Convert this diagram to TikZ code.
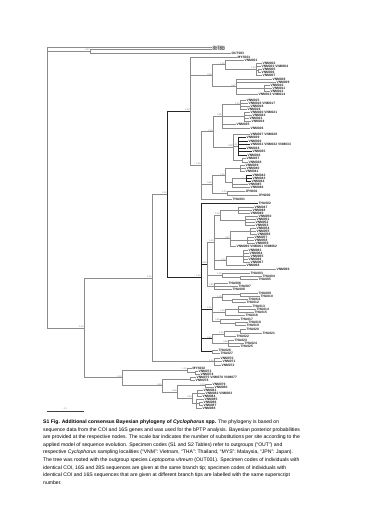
\documentclass[tikz,border=0pt]{standalone}
\usepackage{fontspec}
\setmainfont{Liberation Sans}
\usetikzlibrary{calc}
\tikzset{
 br/.style={draw=black!45, line width=0.7pt},
 dk/.style={draw=black!85, line width=0.7pt},
 tiplab/.style={anchor=west, inner sep=0.35pt, font=\fontsize{3.3}{3.3}\selectfont\bfseries, text=black!85},
 post/.style={anchor=south east, inner sep=0.2pt, font=\fontsize{2.2}{2.2}\selectfont, text=black!55},
}
\newcommand\tp[4]{\node[tiplab] (#1) at (#2,#3) {#4};}
\newcommand\cl[6][br]{%
  \coordinate (#2m) at ($(#4)!.5!(#5)$);
  \coordinate (#2) at (#3,0 |- #2m);
  \foreach \c in {#6}{\draw[#1] (#2) |- (\c);}
}
\newcommand\pp[2]{\node[post] (#1p) at (#1) {#2};}
\begin{document}
\begin{tikzpicture}[x=1pt,y=-1pt]
\fill[white] (0,0) rectangle (365,516);
\useasboundingbox (0,0) rectangle (365,516);
% ---------- tips ----------
\tp{O1}{212}{47}{OUT001}
\tp{O2}{212}{49.5}{OUT002}
\tp{O3}{231}{53}{OUT003}
\tp{M1}{237}{57}{MYS001}
\tp{v01}{244}{60}{VNM001}
\tp{v02}{262}{63}{VNM002}
\tp{v03}{261}{66}{VNM003 VNM004}
\tp{v04}{262}{69}{VNM005}
\tp{v05}{261}{72}{VNM006}
\tp{v06}{262}{75}{VNM007}
\tp{v07}{272}{79}{VNM008}
\tp{v08}{276}{82}{VNM009}
\tp{v09}{270}{85}{VNM010}
\tp{v10}{272}{88}{VNM011}
\tp{v11}{270}{91}{VNM012}
\tp{v12}{258}{94}{VNM013 VNM014}
\tp{v13}{246}{100}{VNM015}
\tp{v14}{248}{103}{VNM016 VNM017}
\tp{v15}{250}{106}{VNM018}
\tp{v16}{247}{109}{VNM019}
\tp{v17}{250}{112}{VNM020 VNM021}
\tp{v18}{252}{115}{VNM022}
\tp{v19}{249}{118}{VNM023}
\tp{v20}{251}{121}{VNM024}
\tp{v21}{236}{124.5}{VNM025}
\tp{v22}{250}{128}{VNM026}
\tp{v23}{250}{134}{VNM027 VNM028}
\tp{v24}{246}{137.5}{VNM029}
\tp{v25}{248}{141}{VNM030}
\tp{v26}{250}{144.5}{VNM031 VNM032 VNM033}
\tp{v27}{246}{148}{VNM034}
\tp{v28}{252}{151.5}{VNM035}
\tp{v29}{247}{155}{VNM036}
\tp{v30}{246}{158.5}{VNM037}
\tp{v31}{248}{162}{VNM038}
\tp{v32}{245}{165.5}{VNM039}
\tp{v33}{246}{168.5}{VNM040}
\tp{v34}{245}{171.5}{VNM041}
\tp{v35}{252}{175}{VNM042}
\tp{v36}{252}{178}{VNM043}
\tp{v37}{251}{181}{VNM044}
\tp{v38}{248}{184}{VNM045}
\tp{v39}{250}{187}{VNM046}
\tp{j1}{245}{191}{JPN001}
\tp{j2}{258}{195}{JPN002}
\tp{t1}{232}{199}{THA001}
\tp{t2}{258}{203}{THA002}
\tp{v40}{254}{207}{VNM047}
\tp{v41}{252}{210}{VNM048}
\tp{v42}{250}{213}{VNM049}
\tp{v43}{258}{216}{VNM050}
\tp{v44}{256}{219}{VNM051}
\tp{v45}{255}{222}{VNM052}
\tp{v46}{255}{225}{VNM053}
\tp{v47}{256}{228}{VNM054}
\tp{v48}{256}{231}{VNM055}
\tp{v49}{257}{234}{VNM056}
\tp{v50}{254}{237}{VNM057}
\tp{v51}{254}{240}{VNM058}
\tp{v52}{255}{243}{VNM059}
\tp{v53}{236}{246.5}{VNM060 VNM061 VNM062}
\tp{v54}{248}{250}{VNM063}
\tp{v55}{249}{253}{VNM064}
\tp{v56}{250}{256}{VNM065}
\tp{v57}{248}{259}{VNM066}
\tp{v58}{250}{262}{VNM067}
\tp{v59}{246}{265}{VNM068}
\tp{v60}{276}{269}{VNM069}
\tp{t3}{250}{273}{THA003}
\tp{t4}{262}{276}{THA004}
\tp{t5}{258}{279}{THA005}
\tp{t6}{228}{283}{THA006}
\tp{t7}{238}{286}{THA007}
\tp{t8}{232}{289}{THA008}
\tp{t9}{258}{293}{THA009}
\tp{t10}{260}{296}{THA010}
\tp{t11}{248}{299}{THA011}
\tp{t12}{246}{302}{THA012}
\tp{t13}{252}{306}{THA013}
\tp{t14}{256}{309}{THA014}
\tp{t15}{254}{312}{THA015}
\tp{t16}{245}{315}{THA016}
\tp{t17}{240}{319}{THA017}
\tp{t18}{248}{322}{THA018}
\tp{t19}{246}{325}{THA019}
\tp{t20}{246}{329.5}{THA020}
\tp{t21}{262}{333}{THA021}
\tp{t22}{236}{336.5}{THA022}
\tp{t23}{234}{340}{THA023}
\tp{t24}{244}{343}{THA024}
\tp{t25}{240}{346}{THA025}
\tp{t26}{218}{350}{THA026}
\tp{t27}{220}{353.5}{THA027}
\tp{v61}{220}{358}{VNM070}
\tp{v62}{222}{361.5}{VNM071}
\tp{v63}{221}{365}{VNM072}
\tp{M2}{192}{368}{MYS002}
\tp{v64}{198}{371}{VNM073}
\tp{v65}{200}{374}{VNM074}
\tp{v66}{196}{377.5}{VNM075 VNM076 VNM077}
\tp{v67}{195}{380.5}{VNM078}
\tp{v68}{212}{384}{VNM079}
\tp{v69}{214}{387}{VNM080}
\tp{v70}{203}{390}{VNM081}
\tp{v71}{205}{393}{VNM082 VNM083}
\tp{v72}{202}{396}{VNM084}
\tp{v73}{204}{399}{VNM085}
\tp{v74}{203}{402}{VNM086}
\tp{v75}{203}{405}{VNM087}
\tp{v76}{202}{408}{VNM088}
% ---------- clades (upper) ----------
\cl{nO}{90}{O2}{O3}{O2,O3}
\cl{N258}{258}{v04}{v05}{v04,v05}
\cl{N256}{256}{v02}{v06}{v02,v03,N258,v06}
\cl{N225}{225}{v01}{N256}{v01,N256}
\cl{N264}{264}{v09}{v11}{v09,v10,v11}
\cl{N236}{236}{v07}{v12}{v07,v08,N264,v12}
\cl{N212}{212}{N225}{N236}{N225,N236}
\cl{N240}{240}{v13}{v16}{v13,v14,v15,v16}
\cl{N244}{244}{v17}{v20}{v17,v18,v19,v20}
\cl{N222}{222}{N240}{v22}{N240,N244,v21,v22}
\cl[dk]{N238}{238}{v24}{v29}{v24,v25,v26,v27,v28,v29}
\cl{N242}{242}{v30}{v31}{v30,v31}
\cl{N233}{233}{v23}{N242}{v23,N238,N242}
\cl{N213a}{213}{N222}{N233}{N222,N233}
\cl{N240e}{240}{v32}{v34}{v32,v33,v34}
\cl[dk]{N246}{246}{v35}{v37}{v35,v36,v37}
\cl{N232e}{232}{N246}{v39}{N246,v38,v39}
\cl{N225b}{225}{N240e}{N232e}{N240e,N232e}
\cl{NJ}{227}{j1}{j2}{j1,j2}
\cl{N213b}{212}{N225b}{NJ}{N225b,NJ}
\cl{N200b}{201}{N213a}{t1}{N213a,N213b,t1}
\cl{N190}{190}{M1}{N200b}{M1,N212,N200b}
% ---------- clades (lower) ----------
\cl{N238b}{238}{v40}{v42}{v40,v41,v42}
\cl{N245}{245}{v43}{v46}{v43,v44,v45,v46}
\cl{N220}{220}{N238b}{N245}{N238b,N245}
\cl{N250}{250}{v47}{v49}{v47,v48,v49}
\cl{N247}{247}{v50}{v52}{v50,v51,v52}
\cl{N230b}{230}{N250}{v53}{N250,N247,v53}
\cl{N243}{243}{v54}{v58}{v54,v55,v56,v57,v58}
\cl{N226}{226}{N243}{v59}{N243,v59}
\cl{C1a}{214}{N220}{v60}{N220,N230b,N226,v60}
\cl{N240b}{240}{t4}{t5}{t4,t5}
\cl{C1b}{222}{t3}{N240b}{t3,N240b}
\cl{C1c}{214}{t6}{t8}{t6,t7,t8}
\cl{C1}{207}{C1a}{C1c}{C1a,C1b,C1c}
\cl{N240c}{240}{t9}{t10}{t9,t10}
\cl{N232}{232}{t11}{t12}{t11,t12}
\cl{N222c}{222}{N240c}{N232}{N240c,N232}
\cl{N238c}{238}{t13}{t15}{t13,t14,t15}
\cl{N225c}{225}{N238c}{t16}{N238c,t16}
\cl{N235}{235}{t18}{t19}{t18,t19}
\cl{N220c}{220}{t17}{N235}{t17,N235}
\cl{C2}{212}{N222c}{N220c}{N222c,N225c,N220c}
\cl{N240d}{240}{t20}{t21}{t20,t21}
\cl{N224}{224}{N240d}{t22}{N240d,t22}
\cl{N228}{228}{t23}{t25}{t23,t24,t25}
\cl{C3}{212}{N224}{N228}{N224,N228}
\cl{C4}{212}{t26}{t27}{t26,t27}
\cl[dk]{N200}{201}{t2}{C4}{t2,C1,C2,C3,C4}
\cl[dk]{N167}{167}{N190}{N200}{N190,N200}
\cl{BA}{214}{v61}{v63}{v61,v62,v63}
\cl{N152}{152}{N167}{BA}{N167,BA}
\cl{N195}{195}{v64}{v65}{v64,v65}
\cl{N187}{187}{M2}{N195}{M2,N195}
\cl{N190c}{190}{v66}{v67}{v66,v67}
\cl{N205}{205}{v68}{v69}{v68,v69}
\cl{N197}{197}{v70}{v72}{v70,v71,v72}
\cl{N199}{199}{v74}{v75}{v74,v75}
\cl{N196}{196}{v73}{v76}{v73,N199,v76}
\cl{N192}{192}{N197}{N196}{N197,N196}
\cl{N177}{177}{N205}{N192}{N205,N192}
\cl{N162}{162}{N190c}{N177}{N190c,N177}
\cl{N122}{122}{N187}{N162}{N187,N162}
\cl{N84}{84}{N152}{N122}{N152,N122}
\cl{root}{47}{O1}{N84}{O1,nO,N84}
% ---------- posterior probabilities ----------
\pp{nO}{0.97}\pp{N84}{1.00}\pp{N152}{1.00}\pp{N167}{1.00}\pp{N190}{1.00}
\pp{N122}{1.00}\pp{N162}{0.99}\pp{N177}{0.98}\pp{N187}{1.00}\pp{N200}{1.00}
\pp{N200b}{1.00}\pp{N212}{0.96}\pp{N213a}{1.00}\pp{N213b}{0.99}\pp{N222}{0.96}
\pp{N233}{0.99}\pp{N225}{1.00}\pp{N236}{0.97}\pp{N256}{1.00}\pp{NJ}{1.00}
\pp{C1}{0.99}\pp{C1a}{1.00}\pp{C2}{1.00}\pp{C3}{0.99}\pp{N220}{1.00}
\pp{N230b}{0.97}\pp{N226}{1.00}\pp{C1b}{1.00}\pp{C1c}{0.95}\pp{N222c}{1.00}
\pp{N225c}{1.00}\pp{N220c}{0.99}\pp{N224}{1.00}\pp{N228}{0.98}\pp{BA}{1.00}
\pp{N205}{1.00}\pp{N192}{0.99}\pp{N238}{1.00}\pp{N240}{1.00}\pp{N225b}{1.00}
% ---------- scale bar ----------
\coordinate (sbA) at (47,411);
\coordinate (sbB) at (84,411);
\draw[black!75, line width=0.6pt] (sbA) -- (sbB);
\node[post, anchor=south] (sbL) at ($(sbA)!.5!(sbB)+(0,-1)$) {0.1};
% ---------- caption ----------
\node[anchor=north west, align=left, inner sep=0, font=\fontsize{5.1}{7.6}\selectfont] (cap) at (43,419.5) {%
\textbf{S1 Fig. Additional consensus Bayesian phylogeny of \textit{Cyclophorus} spp.} The phylogeny is based on\\
sequence data from the COI and 16S genes and was used for the bPTP analysis. Bayesian posterior probabilities\\
are provided at the respective nodes. The scale bar indicates the number of substitutions per site according to the\\
applied model of sequence evolution. Specimen codes (S1 and S2 Tables) refer to outgroups (“OUT”) and\\
respective \textit{Cyclophorus} sampling localities (“VNM”: Vietnam, “THA”: Thailand, “MYS”: Malaysia, “JPN”: Japan).\\
The tree was rooted with the outgroup species \textit{Leptopoma vitreum} (OUT001). Specimen codes of individuals with\\
identical COI, 16S and 28S sequences are given at the same branch tip; specimen codes of individuals with\\
identical COI and 16S sequences that are given at different branch tips are labelled with the same superscript\\
number.};
\end{tikzpicture}
\end{document}
